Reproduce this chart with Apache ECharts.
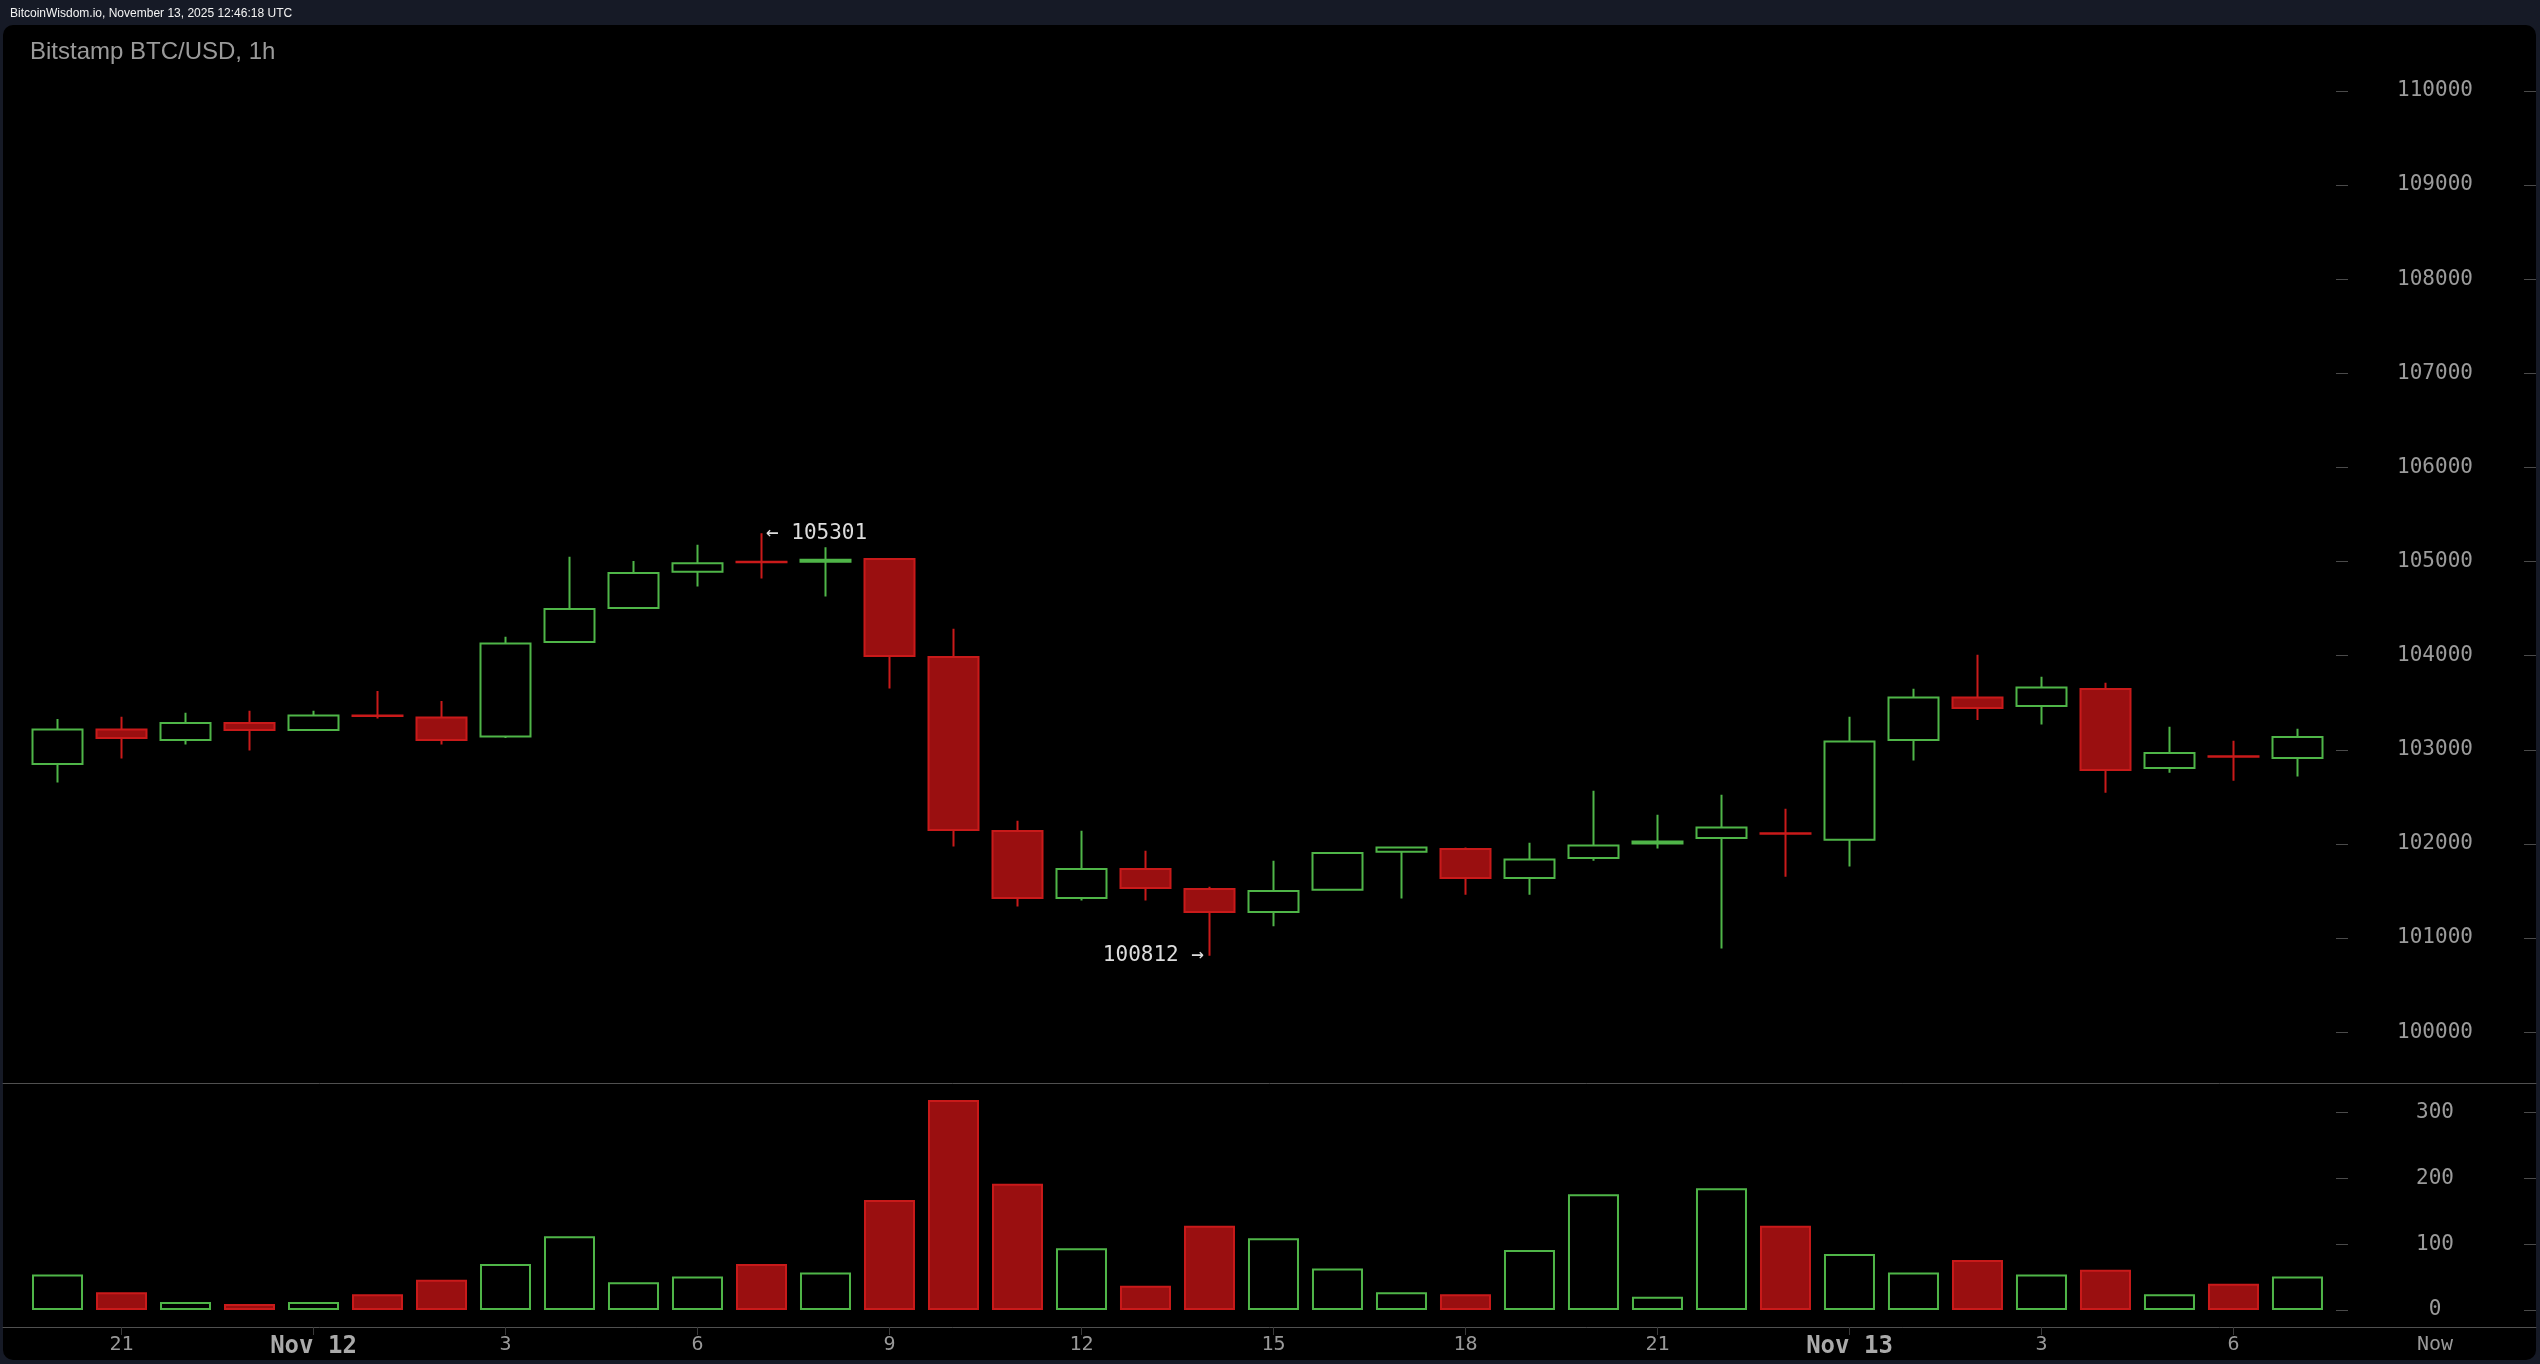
<!DOCTYPE html>
<html>
<head>
<meta charset="utf-8">
<script src="https://cdn.jsdelivr.net/npm/echarts@6/dist/echarts.min.js"></script>
<style>
  html, body { margin: 0; padding: 0; background: #161a26; overflow: hidden; }
  #panel { position: absolute; left: 3px; top: 25px; width: 2533px; height: 1335px; border-radius: 10px; background: #000; }
  #chart { position: absolute; left: 0; top: 0; width: 2540px; height: 1364px; }
</style>
</head>
<body>
<div id="panel"></div>
<div id="chart"></div>
<script>
// ---- data (hourly candles, Nov 11 20:00 -> Nov 13 07:00) ----
const times = ['20','21','22','23','00','01','02','03','04','05','06','07','08','09','10','11','12','13',
               '14','15','16','17','18','19','20','21','22','23','00','01','02','03','04','05','06','07'];
const opens  = [102849,103216,103103,103284,103210,103365,103344,103140,104144,104505,104891,104997,
                104998,105026,103985,102137,101425,101733,101521,101277,101513,101917,101946,101638,
                101850,102005,102063,102113,102045,103103,103556,103465,103645,102806,102932,102912];
const closes = [103216,103125,103284,103210,103365,103360,103103,104130,104495,104877,104983,104992,
                105018,103996,102148,101425,101733,101532,101277,101500,101903,101963,101638,101835,
                101984,102025,102175,102108,103089,103556,103443,103662,102785,102965,102927,103135];
const lows   = [102653,102908,103057,102993,103205,103333,103057,103125,104135,104495,104735,104820,
                104629,103652,101973,101336,101400,101400,100812,101124,101510,101421,101460,101460,
                101821,101952,100890,101652,101761,102887,103316,103269,102544,102756,102671,102717];
const highs  = [103326,103351,103393,103415,103415,103624,103518,104200,105050,105005,105178,105301,
                105153,105026,104286,102246,102140,101928,101545,101821,101905,101965,101963,102013,
                102565,102310,102522,102374,103351,103648,104009,103776,103712,103245,103096,103223];
const volumes = [54,27,12,9,12,24,46,70,112,42,51,70,57,167,319,192,94,37,128,109,63,27,24,91,
                 176,20,185,128,85,57,76,54,61,24,40,51];

const priceTicks = [100000,101000,102000,103000,104000,105000,106000,107000,108000,109000,110000];
const volumeTicks = [0,100,200,300];
const timeTickLabels = ['21','Nov 12','3','6','9','12','15','18','21','Nov 13','3','6','Now'];
const timeTickAt     = [1,4,7,10,13,16,19,22,25,28,31,34,37.15];

// ---- style ----
const GREEN = '#4fb548';
const RED_FILL = '#9a0f10';
const RED_LINE = '#c91a1a';
const MONO = 'DejaVu Sans Mono';
const X_MIN = -0.8516, X_MAX = 38.727;
const PRICE_MIN = 99460, PRICE_MAX = 110700;
const VOL_MIN = 0, VOL_MAX = 345;

const candleData = times.map((t, i) => [i, opens[i], closes[i], lows[i], highs[i]]);
const volumeData = volumes.map((v, i) => {
  const up = closes[i] > opens[i];
  return {
    value: [i, v],
    itemStyle: up ? { color: '#000', borderColor: GREEN, borderWidth: 2 }
                  : { color: RED_FILL, borderColor: RED_LINE, borderWidth: 2 }
  };
});

let hiIdx = 0, loIdx = 0;
highs.forEach((h, i) => { if (h > highs[hiIdx]) hiIdx = i; });
lows.forEach((l, i) => { if (l < lows[loIdx]) loIdx = i; });

const tickLabelFmt = (val) => {
  const k = timeTickAt.findIndex(t => Math.abs(t - val) < 1e-6);
  if (k < 0) return '';
  const s = timeTickLabels[k];
  return s.indexOf('Nov') === 0 ? '{b|' + s + '}' : s;
};

function labelAxis(gridIndex, min, max, ticks) {
  return { type: 'value', gridIndex, position: 'right', min, max,
    axisLine: { show: false },
    axisTick: { show: false },
    axisLabel: { show: true, inside: true, margin: 101, align: 'center', customValues: ticks,
      formatter: (v) => String(v), color: '#9b9b9b', fontSize: 21, fontFamily: MONO },
    splitLine: { show: false } };
}
function dashAxis(gridIndex, min, max, ticks, offset) {
  return { type: 'value', gridIndex, position: 'right', offset, min, max,
    axisLine: { show: false },
    axisTick: { show: true, inside: true, length: 12, customValues: ticks,
      lineStyle: { color: '#4a4a4a', width: 1 } },
    axisLabel: { show: false },
    splitLine: { show: false } };
}

const chart = echarts.init(document.getElementById('chart'), null, { renderer: 'canvas' });
chart.setOption({
  animation: false,
  backgroundColor: 'transparent',
  title: [
    { text: 'BitcoinWisdom.io, November 13, 2025 12:46:18 UTC', left: 10, top: 7.5, padding: 0,
      textStyle: { color: '#f4f4f4', fontSize: 12, fontWeight: 'normal', fontFamily: 'Liberation Sans' } },
    { text: 'Bitstamp BTC/USD, 1h', left: 30, top: 40.5, padding: 0,
      textStyle: { color: '#9a9a9a', fontSize: 24, fontWeight: 'normal', fontFamily: 'Liberation Sans' } }
  ],
  grid: [
    { left: 3, right: 4, top: 25, height: 1058 },
    { left: 3, right: 4, top: 1083, height: 227 }
  ],
  xAxis: [
    { type: 'value', gridIndex: 0, min: X_MIN, max: X_MAX, position: 'bottom',
      axisLine: { show: true, onZero: false, lineStyle: { color: '#505050', width: 1 } },
      axisTick: { show: false }, axisLabel: { show: false }, splitLine: { show: false } },
    { type: 'value', gridIndex: 1, min: X_MIN, max: X_MAX, position: 'bottom', offset: 17,
      axisLine: { show: true, onZero: false, lineStyle: { color: '#505050', width: 1 } },
      axisTick: { show: true, length: 8, customValues: timeTickAt.slice(0, -1), lineStyle: { color: '#3a3a3a' } },
      axisLabel: { show: true, margin: 8, customValues: timeTickAt, formatter: tickLabelFmt,
        color: '#999', fontSize: 20, fontFamily: MONO,
        rich: { b: { color: '#aaa', fontSize: 24, fontWeight: 'bold', fontFamily: MONO } } },
      splitLine: { show: false } }
  ],
  yAxis: [
    labelAxis(0, PRICE_MIN, PRICE_MAX, priceTicks),
    labelAxis(1, VOL_MIN, VOL_MAX, volumeTicks),
    dashAxis(0, PRICE_MIN, PRICE_MAX, priceTicks, -188),
    dashAxis(1, VOL_MIN, VOL_MAX, volumeTicks, -188),
    dashAxis(0, PRICE_MIN, PRICE_MAX, priceTicks, -0.01),
    dashAxis(1, VOL_MIN, VOL_MAX, volumeTicks, -0.01)
  ],
  series: [
    {
      type: 'candlestick', xAxisIndex: 0, yAxisIndex: 0,
      data: candleData, encode: { x: 0, y: [1, 2, 3, 4] },
      barWidth: 51,
      itemStyle: { color: '#000', color0: RED_FILL, borderColor: GREEN, borderColor0: RED_LINE, borderWidth: 2 },
      markPoint: {
        symbol: 'circle', symbolSize: 1, itemStyle: { color: 'rgba(0,0,0,0)' },
        data: [
          { coord: [hiIdx, highs[hiIdx]], value: highs[hiIdx],
            label: { show: true, position: 'right', distance: 4, formatter: '← {c}',
              color: '#dcdcdc', fontSize: 21, fontFamily: MONO } },
          { coord: [loIdx, lows[loIdx]], value: lows[loIdx],
            label: { show: true, position: 'left', distance: 5, formatter: '{c} →',
              color: '#dcdcdc', fontSize: 21, fontFamily: MONO } }
        ]
      }
    },
    {
      type: 'bar', xAxisIndex: 1, yAxisIndex: 1,
      data: volumeData, barWidth: 51
    }
  ]
});
</script>
</body>
</html>
